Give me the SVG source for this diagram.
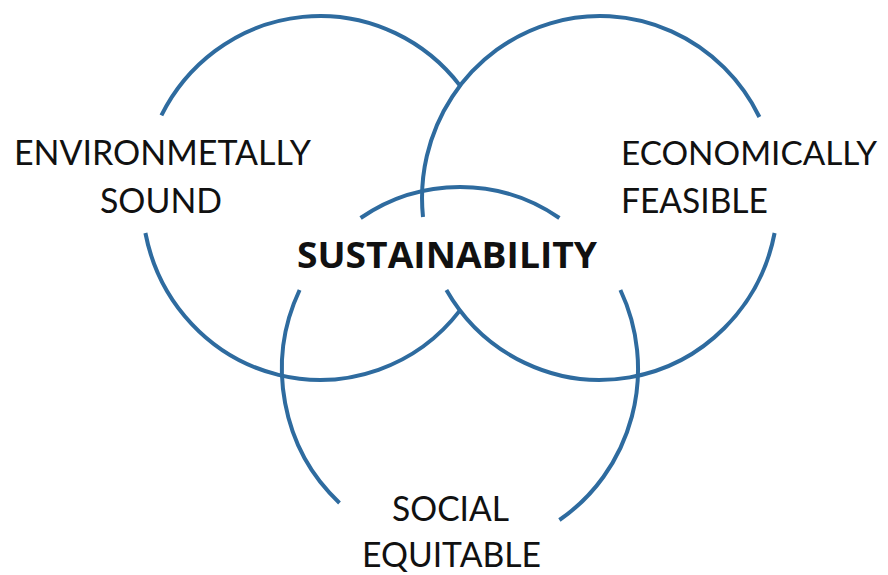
<svg xmlns="http://www.w3.org/2000/svg" width="888" height="575" viewBox="0 0 888 575">
  <style>
    .ring { fill: none; stroke: #2e6b9f; stroke-width: 4; stroke-linecap: butt; }
    .lbl { font-family: "Lato", "Open Sans", "Liberation Sans", sans-serif; font-size: 35px; fill: #111; }
    .bold { font-family: "Open Sans", "Liberation Sans", sans-serif; font-weight: bold; }
    .tight { font-size: 33px; }
  </style>
  <rect width="888" height="575" fill="#ffffff"/>
  <g id="environmental">
    <path class="ring" d="M161.4,115.4 A178,182 0 0 1 460,85.6"/>
    <path class="ring" d="M145.4,233 A178,182 0 0 0 460,310.4"/>
    <text class="lbl" x="14" y="165" textLength="297" lengthAdjust="spacingAndGlyphs">ENVIRONMETALLY</text>
    <text class="lbl" x="100" y="213" textLength="122" lengthAdjust="spacingAndGlyphs">SOUND</text>
  </g>
  <g id="economic">
    <path class="ring" d="M423,217 A178,182 0 0 1 759.4,117"/>
    <path class="ring" d="M774.6,233 A178,182 0 0 1 446.4,290"/>
    <text class="lbl tight" x="621" y="165" textLength="256" lengthAdjust="spacingAndGlyphs">ECONOMICALLY</text>
    <text class="lbl" x="621" y="213" textLength="147" lengthAdjust="spacingAndGlyphs">FEASIBLE</text>
  </g>
  <g id="social">
    <path class="ring" d="M360.6,218 A178,182 0 0 1 559.4,218"/>
    <path class="ring" d="M299.6,290 A178,182 0 0 0 339.5,503"/>
    <path class="ring" d="M620.4,290 A178,182 0 0 1 559.4,520"/>
    <text class="lbl" x="392" y="521" textLength="117" lengthAdjust="spacingAndGlyphs">SOCIAL</text>
    <text class="lbl" x="362" y="567" textLength="179" lengthAdjust="spacingAndGlyphs">EQUITABLE</text>
  </g>
  <g id="sustainability">
    <text class="lbl bold" x="297" y="268" textLength="300" lengthAdjust="spacingAndGlyphs">SUSTAINABILITY</text>
  </g>
  <g id="connectors"></g>
</svg>
